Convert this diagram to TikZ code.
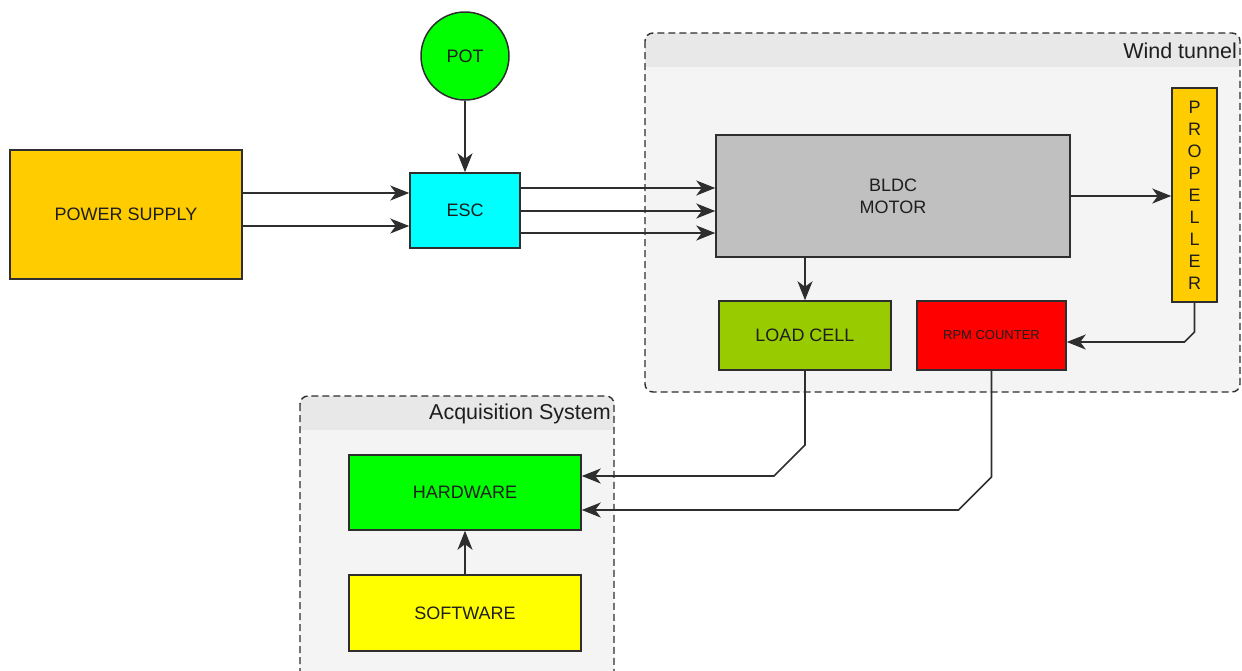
\documentclass[tikz,border=0pt]{standalone}
\usepackage{fontspec}
\setmainfont{Liberation Sans}
\usetikzlibrary{arrows.meta,calc}
\definecolor{txt}{HTML}{1E1E1E}
\definecolor{bord}{HTML}{2E2E2E}
\definecolor{psc}{HTML}{FFCC00}
\definecolor{potc}{HTML}{00FF00}
\definecolor{escc}{HTML}{00FFFF}
\definecolor{bldcc}{HTML}{C0C0C0}
\definecolor{lcc}{HTML}{99CC00}
\definecolor{rpmc}{HTML}{FF0000}
\definecolor{swc}{HTML}{FFFF00}
\definecolor{contbody}{HTML}{F4F4F4}
\definecolor{conthead}{HTML}{E8E8E8}
\tikzset{
  blk/.style={draw=bord, line width=1.5pt, inner sep=0pt, text=txt,
    font=\fontsize{18}{22}\selectfont, align=center},
  arr/.style={draw=bord, line width=1.6pt, arrows={-Stealth[length=19pt,width=15pt,inset=5.5pt]}},
  cont/.style={draw=bord, line width=1.4pt, dash pattern=on 7pt off 4pt, rounded corners=8pt},
  conttitle/.style={text=txt, font=\fontsize{21.5}{24}\selectfont, inner sep=0pt}
}
\begin{document}
\begin{tikzpicture}[x=1pt,y=-1pt]
\clip (0,0) rectangle (1242,670);
\fill[white] (0,0) rectangle (1242,670);
% containers
\begin{scope}
\clip[rounded corners=8pt] (645,33) rectangle (1240,392);
\fill[contbody] (645,33) rectangle (1240,392);
\fill[conthead] (645,33) rectangle (1240,67);
\end{scope}
\draw[cont] (645,33) rectangle (1240,392);
\node[conttitle, anchor=east] (wt) at (1237,51) {Wind tunnel};
\begin{scope}
\clip[rounded corners=8pt] (300,396) rectangle (614,700);
\fill[contbody] (300,396) rectangle (614,700);
\fill[conthead] (300,396) rectangle (614,430);
\end{scope}
\draw[cont] (300,396) rectangle (614,700);
\node[conttitle, anchor=east] (acq) at (611,414) {Acquisition System};
% blocks
\node[blk, fill=psc, minimum width=232pt, minimum height=129pt] (ps) at (126,214.5) {POWER SUPPLY};
\node[blk, circle, fill=potc, minimum size=88pt] (pot) at (465,56) {POT};
\node[blk, fill=escc, minimum width=110pt, minimum height=75pt] (esc) at (465,210.5) {ESC};
\node[blk, fill=bldcc, minimum width=354pt, minimum height=122pt] (bldc) at (893,196) {BLDC\\MOTOR};
\node[blk, fill=psc, minimum width=45pt, minimum height=214pt] (prop) at (1194.5,195) {P\\R\\O\\P\\E\\L\\L\\E\\R};
\node[blk, fill=lcc, minimum width=172pt, minimum height=69pt] (lc) at (805,335.5) {LOAD CELL};
\node[blk, fill=rpmc, minimum width=149pt, minimum height=69pt, font=\fontsize{13}{16}\selectfont] (rpm) at (991.5,335.5) {RPM COUNTER};
\node[blk, fill=potc, minimum width=232pt, minimum height=75pt] (hw) at (465,492.5) {HARDWARE};
\node[blk, fill=swc, minimum width=232pt, minimum height=76pt] (sw) at (465,613) {SOFTWARE};
% connectors
\draw[arr] (pot.south) -- (esc.north);
\draw[arr] ([yshift=21.5pt]ps.east) -- ([yshift=21.5pt]ps.east -| esc.west);
\draw[arr] ([yshift=-11.5pt]ps.east) -- ([yshift=-11.5pt]ps.east -| esc.west);
\draw[arr] ([yshift=22.5pt]esc.east) -- ([yshift=22.5pt]esc.east -| bldc.west);
\draw[arr] ([yshift=-0.5pt]esc.east) -- ([yshift=-0.5pt]esc.east -| bldc.west);
\draw[arr] ([yshift=-22.5pt]esc.east) -- ([yshift=-22.5pt]esc.east -| bldc.west);
\draw[arr] (bldc.east) -- (bldc.east -| prop.west);
\draw[arr] (lc.north |- bldc.south) -- (lc.north);
\coordinate (p1) at (1194.5,332);
\coordinate (p2) at (1184.5,342);
\draw[arr] (prop.south) -- (p1) -- (p2) -- (p2 -| rpm.east);
\coordinate (l1) at (805,445);
\coordinate (l2) at (774,476);
\draw[arr] (lc.south) -- (l1) -- (l2) -- (l2 -| hw.east);
\coordinate (r1) at (991.5,477);
\coordinate (r2) at (958.5,510);
\draw[arr] (rpm.south) -- (r1) -- (r2) -- (r2 -| hw.east);
\draw[arr] (sw.north) -- (hw.south);
\end{tikzpicture}
\end{document}
